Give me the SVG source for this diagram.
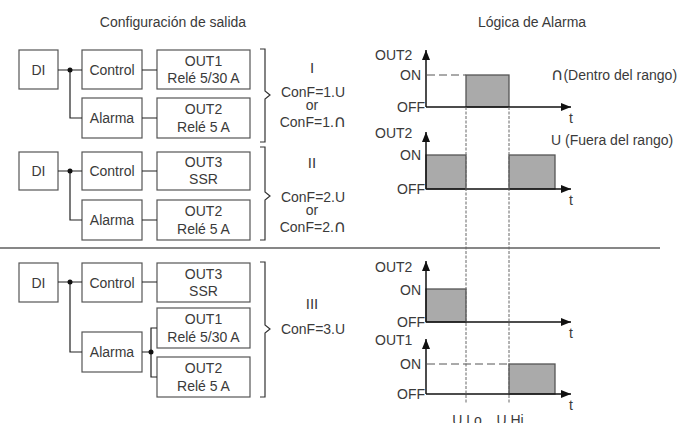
<svg xmlns="http://www.w3.org/2000/svg" width="683" height="423" viewBox="0 0 683 423">
<defs>
<style>
text{font-family:"Liberation Sans","DejaVu Sans",sans-serif;font-size:14px;fill:#3a3a3a;}
.m{text-anchor:middle;}
.e{text-anchor:end;}
.cap{font-family:"DejaVu Sans",sans-serif;font-size:17px;}
.box{fill:#fff;stroke:#555;stroke-width:1.2;}
.ln{fill:none;stroke:#222;stroke-width:1.2;}
.br{fill:none;stroke:#333;stroke-width:1.2;}
.ax{fill:none;stroke:#111;stroke-width:1.5;}
.pl{fill:#aaa;stroke:#555;stroke-width:1.3;}
.dash{fill:none;stroke:#555;stroke-width:1;stroke-dasharray:8,4;}
.dot{fill:none;stroke:#666;stroke-width:1;stroke-dasharray:3,1.5;}
.roman{font-size:15px;}
</style>
<marker id="ah" viewBox="0 0 10 8" refX="10" refY="4" markerWidth="10" markerHeight="8" markerUnits="userSpaceOnUse" orient="auto">
<path d="M0,0 L10,4 L0,8 z" fill="#111"/>
</marker>
</defs>
<rect width="683" height="423" fill="#fff"/>

<text class="m" x="173" y="27">Configuración de salida</text>
<text class="m" x="532" y="27">Lógica de Alarma</text>

<!-- Block I -->
<g id="b1-di"><rect class="box" x="19" y="50" width="39" height="39"/><text class="m" x="38.5" y="75">DI</text></g>
<g id="b1-control"><rect class="box" x="82" y="50" width="60" height="39"/><text class="m" x="112" y="75">Control</text></g>
<g id="b1-out1"><rect class="box" x="157" y="50" width="93" height="39"/><text class="m" x="203.5" y="66">OUT1</text><text class="m" x="203.5" y="83">Relé 5/30 A</text></g>
<g id="b1-alarma"><rect class="box" x="82" y="98" width="60" height="40"/><text class="m" x="112" y="123">Alarma</text></g>
<g id="b1-out2"><rect class="box" x="157" y="98" width="93" height="40"/><text class="m" x="203.5" y="114">OUT2</text><text class="m" x="203.5" y="132">Relé 5 A</text></g>

<!-- Block II -->
<g id="b2-di"><rect class="box" x="19" y="152" width="39" height="38"/><text class="m" x="38.5" y="176">DI</text></g>
<g id="b2-control"><rect class="box" x="82" y="152" width="60" height="38"/><text class="m" x="112" y="176">Control</text></g>
<g id="b2-out3"><rect class="box" x="157" y="152" width="93" height="38"/><text class="m" x="203.5" y="167">OUT3</text><text class="m" x="203.5" y="184">SSR</text></g>
<g id="b2-alarma"><rect class="box" x="82" y="200" width="60" height="40"/><text class="m" x="112" y="225">Alarma</text></g>
<g id="b2-out2"><rect class="box" x="157" y="200" width="93" height="40"/><text class="m" x="203.5" y="216">OUT2</text><text class="m" x="203.5" y="234">Relé 5 A</text></g>

<!-- Block III -->
<g id="b3-di"><rect class="box" x="19" y="263" width="39" height="39"/><text class="m" x="38.5" y="288">DI</text></g>
<g id="b3-control"><rect class="box" x="82" y="263" width="60" height="39"/><text class="m" x="112" y="288">Control</text></g>
<g id="b3-out3"><rect class="box" x="157" y="263" width="93" height="39"/><text class="m" x="203.5" y="279">OUT3</text><text class="m" x="203.5" y="296">SSR</text></g>
<g id="b3-alarma"><rect class="box" x="82" y="332" width="60" height="40"/><text class="m" x="112" y="357">Alarma</text></g>
<g id="b3-out1"><rect class="box" x="157" y="308" width="93" height="40"/><text class="m" x="203.5" y="324">OUT1</text><text class="m" x="203.5" y="342">Relé 5/30 A</text></g>
<g id="b3-out2"><rect class="box" x="157" y="357" width="93" height="40"/><text class="m" x="203.5" y="373">OUT2</text><text class="m" x="203.5" y="391">Relé 5 A</text></g>

<g id="connectors">
<path class="ln" d="M58,70 H82 M70,70 V118 H82 M142,70 H157 M142,118 H157"/>
<circle cx="70" cy="70" r="2.5" fill="#111"/>
<path class="ln" d="M58,171 H82 M70,171 V220 H82 M142,171 H157 M142,220 H157"/>
<circle cx="70" cy="171" r="2.5" fill="#111"/>
<path class="ln" d="M58,282 H82 M70,282 V352 H82 M142,282 H157 M142,352 H151 M157,328 H151 V377 H157"/>
<circle cx="70" cy="282" r="2.5" fill="#111"/>
<circle cx="151" cy="352" r="2.5" fill="#111"/>
</g>

<!-- Brackets -->
<path class="br" d="M260,49 H265 V91 L270,95 L265,99 V142 H260"/>
<path class="br" d="M260,147 H265 V192 L270,196 L265,200 V240 H260"/>
<path class="br" d="M260,262 H265 V325 L270,329 L265,333 V397 H260"/>

<text class="m roman" x="312" y="73">I</text>
<text class="m" x="313" y="97">ConF=1.U</text>
<text class="m" x="312" y="110">or</text>
<text class="m" x="313" y="127">ConF=1.<tspan class="cap">∩</tspan></text>

<text class="m roman" x="312" y="168">II</text>
<text class="m" x="313" y="202">ConF=2.U</text>
<text class="m" x="312" y="215">or</text>
<text class="m" x="313" y="232">ConF=2.<tspan class="cap">∩</tspan></text>

<text class="m roman" x="312" y="309">III</text>
<text class="m" x="313" y="334">ConF=3.U</text>

<line x1="0" y1="248" x2="660" y2="248" stroke="#111" stroke-width="1.2"/>

<!-- Charts -->
<g id="chart1">
<rect class="pl" x="466" y="75" width="43" height="32"/>
<path class="dash" d="M427,75 H466"/>
<path class="ax" d="M426,107 V50" marker-end="url(#ah)"/>
<path class="ax" d="M426,107 H571" marker-end="url(#ah)"/>
<text x="375" y="60">OUT2</text>
<text class="e" x="421" y="80">ON</text>
<text class="e" x="425" y="112">OFF</text>
<text x="569" y="123">t</text>
<text x="551" y="80"><tspan class="cap">∩</tspan>(Dentro del rango)</text>
</g>
<g id="chart2">
<rect class="pl" x="426" y="155" width="40" height="34"/>
<rect class="pl" x="509" y="155" width="46" height="34"/>
<path class="ax" d="M426,189 V132" marker-end="url(#ah)"/>
<path class="ax" d="M426,189 H571" marker-end="url(#ah)"/>
<text x="375" y="138">OUT2</text>
<text class="e" x="421" y="160">ON</text>
<text class="e" x="425" y="194">OFF</text>
<text x="569" y="205">t</text>
<text x="551" y="145">U (Fuera del rango)</text>
</g>
<g id="chart3">
<rect class="pl" x="426" y="289" width="40" height="33"/>
<path class="ax" d="M426,322 V261" marker-end="url(#ah)"/>
<path class="ax" d="M426,322 H571" marker-end="url(#ah)"/>
<text x="375" y="272">OUT2</text>
<text class="e" x="421" y="295">ON</text>
<text class="e" x="425" y="327">OFF</text>
<text x="569" y="338">t</text>
</g>
<g id="chart4">
<rect class="pl" x="509" y="364" width="46" height="30"/>
<path class="dash" d="M427,364 H509"/>
<path class="ax" d="M426,394 V339" marker-end="url(#ah)"/>
<path class="ax" d="M426,394 H571" marker-end="url(#ah)"/>
<text x="375" y="345">OUT1</text>
<text class="e" x="421" y="369">ON</text>
<text class="e" x="425" y="399">OFF</text>
<text x="569" y="410">t</text>
</g>
<path class="dot" d="M466,107 V404 M509,107 V404"/>
<text class="m" x="467" y="425">U.Lo</text>
<text class="m" x="510" y="425">U.Hi</text>
</svg>
